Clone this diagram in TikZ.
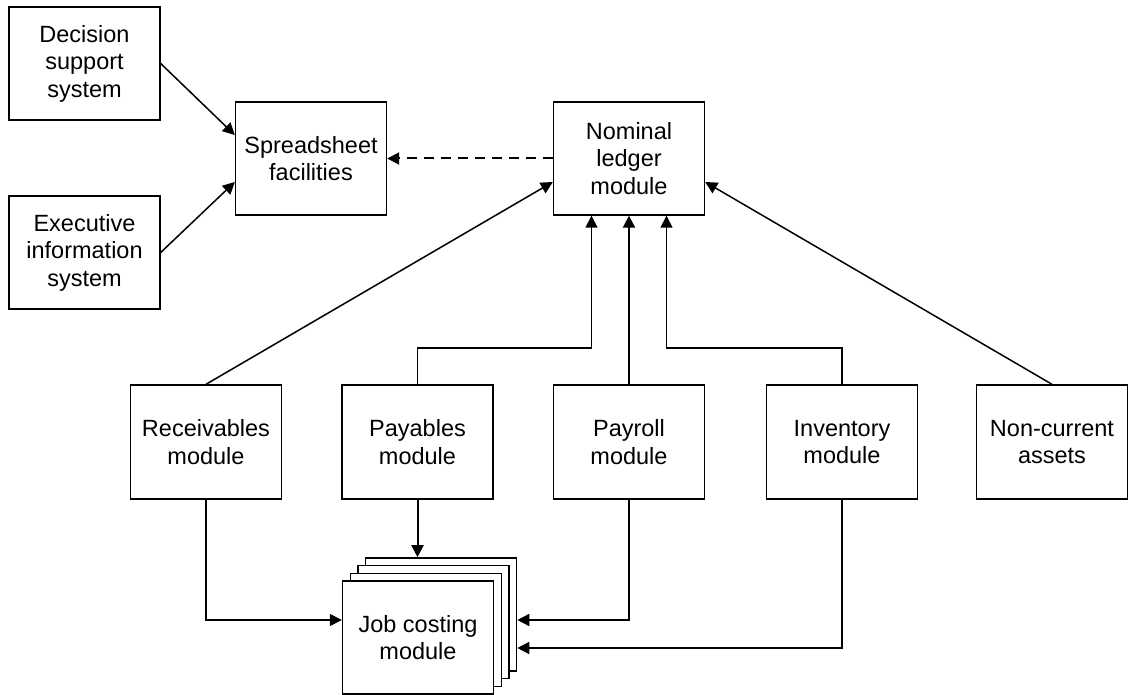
\documentclass[tikz,border=0pt]{standalone}
\usepackage{fontspec}
\setmainfont{Liberation Sans}
\usetikzlibrary{arrows.meta}
\begin{document}
\begin{tikzpicture}[x=1pt,y=-1pt,
  box/.style={draw, line width=1.4pt, fill=white, minimum width=151pt, minimum height=113pt,
    inner sep=0pt, align=center, font=\fontsize{23.5}{27.5}\selectfont},
  arr/.style={line width=1.5pt, -{Triangle[length=12pt,width=12pt]}},
  heavy/.style={line width=2pt}]
\useasboundingbox (0,0) rectangle (1128,695);

% upper tier
\node[box] (dss) at (84.5,63.5) {Decision\\support\\system};
\node[box] (eis) at (84.5,252.5) {Executive\\information\\system};
\node[box] (ss) at (311,158.5) {Spreadsheet\\facilities};
\node[box] (nom) at (629,158.5) {Nominal\\ledger\\module};

% module row
\node[box, minimum height=114pt] (rec) at (206,442) {Receivables\\module};
\node[box, minimum height=114pt] (pay) at (417.5,442) {Payables\\module};
\node[box, minimum height=114pt] (payr) at (629,442) {Payroll\\module};
\node[box, minimum height=114pt] (inv) at (842,442) {Inventory\\module};
\node[box, minimum height=114pt] (nc) at (1052,442) {Non-current\\assets};

% stacked job costing sheets, back to front
\node[box] (jobback) at (441.1,614.4) {};
\node[box] (job2) at (433.4,622.1) {};
\node[box] (job1) at (425.7,629.8) {};
\node[box] (job) at (418,637.5) {Job costing\\module};

\coordinate (bend) at (0,348);

% into spreadsheet facilities
\draw[arr] (dss.east) -- ([yshift=23.5pt]ss.west);
\draw[arr] (eis.east) -- ([yshift=-23.5pt]ss.west);
\draw[arr, heavy, dash pattern=on 10pt off 7pt] (nom.west) -- (ss.east);

% into nominal ledger
\draw[arr] (rec.north) -- ([yshift=-23.5pt]nom.west);
\draw[arr] (nc.north) -- ([yshift=-23.5pt]nom.east);
\draw[arr, heavy] (payr.north) -- (nom.south);
\draw[arr] (pay.north) -- (pay.north |- bend) -| ([xshift=-37.5pt]nom.south);
\draw[arr] (inv.north) -- (inv.north |- bend) -| ([xshift=37.5pt]nom.south);

% into job costing
\draw[arr, heavy] (pay.south) -- (pay.south |- jobback.north);
\draw[arr] (rec.south) |- ([yshift=17.5pt]job.west);
\draw[arr] (payr.south) |- ([yshift=-5.6pt]jobback.east);
\draw[arr] (inv.south) |- ([yshift=-33.6pt]jobback.east);
\end{tikzpicture}
\end{document}
